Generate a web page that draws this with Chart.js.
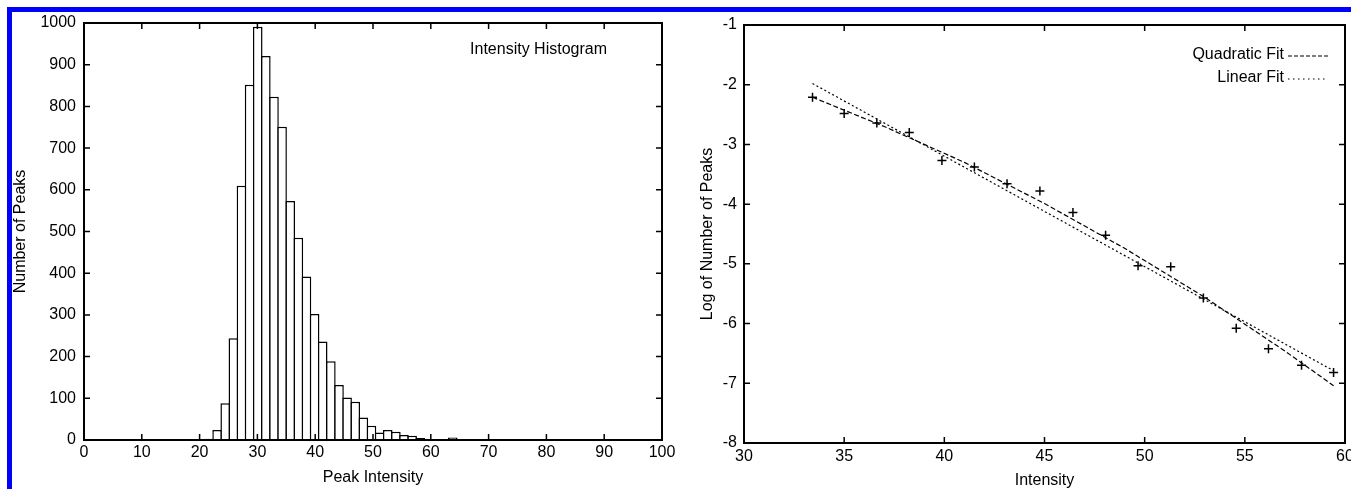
<!DOCTYPE html>
<html lang="en">
<head>
<meta charset="UTF-8">
<title>Peak Intensity</title>
<script src="https://cdn.jsdelivr.net/npm/chart.js"></script>
<style>
    html, body { margin: 0; padding: 0; background: #fff; overflow: hidden; }
    body { width: 1351px; height: 489px; position: relative; }
    .wrap { position: absolute; top: 0; }
    #histWrap { left: 0; width: 680px; height: 489px; }
    #fitWrap { left: 680px; width: 690px; height: 489px; }
    .blue-top { position: absolute; left: 7px; top: 7px; width: 1344px; height: 5px; background: #0000ff; z-index: 2; }
    .blue-left { position: absolute; left: 7px; top: 7px; width: 5px; height: 482px; background: #0000ff; z-index: 2; }
</style>
</head>
<body>
    <div class="wrap" id="histWrap"><canvas id="histChart" width="680" height="489"></canvas></div>
    <div class="wrap" id="fitWrap"><canvas id="fitChart" width="690" height="489"></canvas></div>
    <div class="blue-top"></div>
    <div class="blue-left"></div>

<script>
    // histogram bins (centre of each box) and counts
    const binCenters = [21.62, 23.03, 24.43, 25.84, 27.24, 28.65, 30.06, 31.46, 32.87, 34.27,
                        35.68, 37.09, 38.49, 39.90, 41.30, 42.71, 44.12, 45.52, 46.93, 48.33,
                        49.74, 51.15, 52.55, 53.96, 55.36, 56.77, 58.18, 59.58, 60.99, 62.39, 63.80];
    const peakCounts = [3, 24, 88, 244, 610, 852, 991, 921, 823, 751,
                        573, 485, 392, 302, 236, 189, 132, 102, 92, 54,
                        34, 18, 24, 20, 12, 10, 5, 2, 0, 0, 6];

    // log plot: measured points and the two fits
    const logX = [33.42, 35.0, 36.63, 38.25, 39.88, 41.5, 43.13, 44.77, 46.42, 48.05,
                  49.67, 51.3, 52.93, 54.57, 56.18, 57.83, 59.43];
    const logY = [-2.21, -2.48, -2.64, -2.80, -3.27, -3.38, -3.66, -3.78, -4.14, -4.52,
                  -5.03, -5.05, -5.57, -6.08, -6.42, -6.70, -6.82];
    const quadX = [33.42, 37, 41, 45, 49, 53, 57, 59.43];
    const quadY = [-2.21, -2.70, -3.30, -3.99, -4.74, -5.56, -6.46, -7.04];
    const linX = [33.42, 59.43];
    const linY = [-1.98, -6.79];

    const histXTicks = [0, 100, 10];   // min, max, step
    const histYTicks = [0, 1000, 100];
    const logXTicks = [30, 60, 5];
    const logYTicks = [-8, -1, 1];

    Chart.defaults.font.family = '"Liberation Sans", Arial, Helvetica, sans-serif';
    Chart.defaults.font.size = 16;
    Chart.defaults.color = '#000';

    const toPoints = (xs, ys) => xs.map((x, i) => ({ x: x, y: ys[i] }));

    // gnuplot style frame with inward ticks on all four sides
    const boxTicks = {
        id: 'boxTicks',
        afterDatasetsDraw(chart) {
            const { ctx, chartArea: a, scales: { x, y } } = chart;
            ctx.save();
            ctx.strokeStyle = '#000';
            ctx.lineWidth = 1.5;
            ctx.beginPath();
            x.ticks.forEach(t => {
                const px = x.getPixelForValue(t.value);
                ctx.moveTo(px, a.bottom); ctx.lineTo(px, a.bottom - 6);
                ctx.moveTo(px, a.top); ctx.lineTo(px, a.top + 6);
            });
            y.ticks.forEach(t => {
                const py = y.getPixelForValue(t.value);
                ctx.moveTo(a.left, py); ctx.lineTo(a.left + 6, py);
                ctx.moveTo(a.right, py); ctx.lineTo(a.right - 6, py);
            });
            ctx.stroke();
            ctx.lineWidth = 2;
            ctx.strokeRect(a.left, a.top, a.right - a.left, a.bottom - a.top);
            ctx.restore();
        }
    };

    // key in the top right corner: text followed by a line sample
    const keyBox = {
        id: 'keyBox',
        afterDatasetsDraw(chart, args, opts) {
            const { ctx, chartArea: a } = chart;
            ctx.save();
            ctx.font = '16px "Liberation Sans", Arial, sans-serif';
            ctx.fillStyle = '#000';
            ctx.textAlign = 'right';
            ctx.textBaseline = 'middle';
            opts.items.forEach(item => {
                const tx = a.right - opts.textRight;
                const ty = a.top + item.dy;
                ctx.fillText(item.text, tx, ty);
                if (item.dash) {
                    ctx.beginPath();
                    ctx.setLineDash(item.dash);
                    ctx.lineWidth = 1.2;
                    ctx.strokeStyle = '#000';
                    ctx.moveTo(tx + 4, ty + 1);
                    ctx.lineTo(tx + 4 + item.len, ty + 1);
                    ctx.stroke();
                }
            });
            ctx.restore();
        }
    };

    function axisScale(range, opts) {
        return Object.assign({
            type: 'linear',
            min: range[0],
            max: range[1],
            grid: { display: false, drawTicks: false },
            border: { display: false },
            ticks: { stepSize: range[2], color: '#000', font: { size: 16 }, callback: v => String(v) }
        }, opts);
    }

    // left: histogram
    const histChart = new Chart(document.getElementById('histChart'), {
        type: 'bar',
        data: {
            datasets: [{
                data: toPoints(binCenters, peakCounts),
                backgroundColor: '#fff',
                borderColor: '#000',
                borderWidth: 1.5,
                borderSkipped: 'start',
                barPercentage: 1.185,
                categoryPercentage: 1
            }]
        },
        options: {
            responsive: false,
            animation: false,
            devicePixelRatio: 1,
            layout: { padding: { top: 23, right: 18, left: 0, bottom: 0 } },
            plugins: {
                legend: { display: false },
                tooltip: { enabled: false },
                keyBox: { textRight: 55, items: [{ text: 'Intensity Histogram', dy: 27 }] }
            },
            scales: {
                x: axisScale(histXTicks, {
                    offset: false,
                    ticks: { stepSize: 10, color: '#000', font: { size: 16 }, padding: 3, maxRotation: 0, callback: v => String(v) },
                    title: { display: true, text: 'Peak Intensity', font: { size: 16 }, padding: { top: 0, bottom: 1.4 } },
                    afterFit: s => { s.height = 49; }
                }),
                y: axisScale(histYTicks, {
                    ticks: { stepSize: 100, color: '#000', font: { size: 16 }, padding: 8, callback: v => String(v) },
                    title: { display: true, text: 'Number of Peaks', font: { size: 16 }, padding: { top: 11.4, bottom: 0 } },
                    afterFit: s => { s.width = 84; }
                })
            }
        },
        plugins: [boxTicks, keyBox]
    });

    // right: log of counts with fits
    const fitChart = new Chart(document.getElementById('fitChart'), {
        type: 'scatter',
        data: {
            datasets: [{
                data: toPoints(logX, logY),
                pointStyle: 'cross',
                pointRadius: 4.5,
                borderColor: '#000',
                borderWidth: 1.5,
                showLine: false
            }, {
                data: toPoints(quadX, quadY),
                showLine: true,
                pointRadius: 0,
                borderColor: '#000',
                borderWidth: 1.2,
                borderDash: [5, 2.5]
            }, {
                data: toPoints(linX, linY),
                showLine: true,
                pointRadius: 0,
                borderColor: '#000',
                borderWidth: 1.2,
                borderDash: [2, 2.5]
            }]
        },
        options: {
            responsive: false,
            animation: false,
            devicePixelRatio: 1,
            layout: { padding: { top: 25, right: 25, left: 0, bottom: 0 } },
            plugins: {
                legend: { display: false },
                tooltip: { enabled: false },
                keyBox: {
                    textRight: 61,
                    items: [
                        { text: 'Quadratic Fit', dy: 30, dash: [4, 2], len: 42 },
                        { text: 'Linear Fit', dy: 53, dash: [1.5, 3.5], len: 40 }
                    ]
                }
            },
            scales: {
                x: axisScale(logXTicks, {
                    ticks: { stepSize: 5, color: '#000', font: { size: 16 }, padding: 4, maxRotation: 0, callback: v => String(v) },
                    title: { display: true, text: 'Intensity', font: { size: 16 }, padding: { top: 0, bottom: -1 } },
                    afterFit: s => { s.height = 46; }
                }),
                y: axisScale(logYTicks, {
                    ticks: { stepSize: 1, color: '#000', font: { size: 16 }, padding: 7, callback: v => String(v) },
                    title: { display: true, text: 'Log of Number of Peaks', font: { size: 16 }, padding: { top: 18.4, bottom: 0 } },
                    afterFit: s => { s.width = 64; }
                })
            }
        },
        plugins: [boxTicks, keyBox]
    });
</script>
</body>
</html>
